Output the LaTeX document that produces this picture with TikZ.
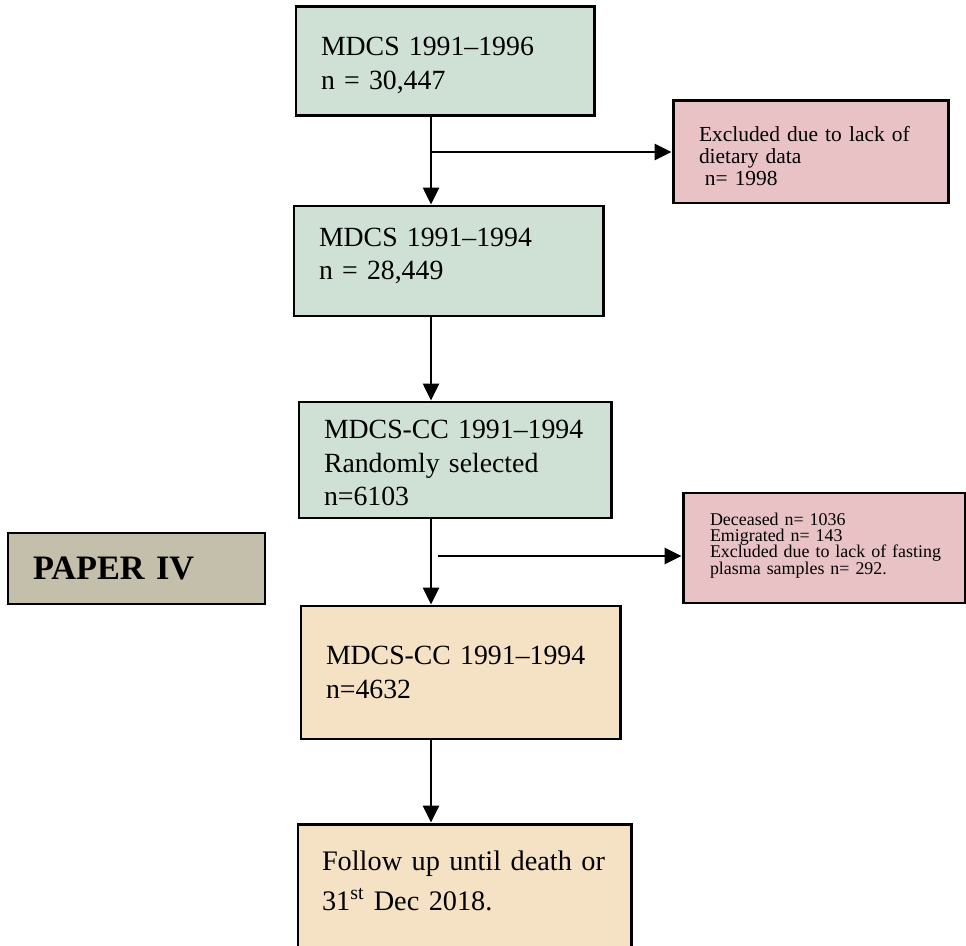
\documentclass[tikz,border=0pt]{standalone}
\usepackage{fontspec}
\setmainfont{Liberation Serif}
\usetikzlibrary{arrows.meta}

\definecolor{keptgreen}{HTML}{CFE0D5}
\definecolor{droppink}{HTML}{E9C2C6}
\definecolor{paperkhaki}{HTML}{C4BFAB}
\definecolor{finalbeige}{HTML}{F5E1C3}

% extra space under the text of a box (negative pushes the text down)
\newcommand{\padbelow}[1]{\par\vspace*{#1}\hrule height 0pt}

\begin{document}
\begin{tikzpicture}[line width=1.7pt,
    box/.style={draw=black, rectangle, align=left, inner xsep=0.5cm, inner ysep=0pt},
    mainfont/.style={font=\fontsize{15.8}{19.2}\selectfont},
    arr/.style={-{Triangle[length=0.34cm,width=0.32cm]}, line width=1.5pt}]
\useasboundingbox (0,0) rectangle (19.32,-18.92);

% main column
\node[box, mainfont, fill=keptgreen, text width=4.96cm, minimum height=2.18cm] (mdcs96) at (8.90,-1.23)
    {MDCS 1991–1996\\n = 30,447\padbelow{-0.15cm}};
\node[box, mainfont, fill=keptgreen, text width=5.18cm, minimum height=2.20cm] (mdcs94) at (8.97,-5.22)
    {MDCS 1991–1994\\n = 28,449\padbelow{0.2cm}};
\node[box, mainfont, fill=keptgreen, text width=5.24cm, minimum height=2.32cm] (ccrand) at (9.10,-9.20)
    {\mbox{MDCS-CC 1991–1994}\\Randomly selected\\n=6103\padbelow{-0.12cm}};
\node[box, mainfont, fill=finalbeige, text width=5.38cm, minimum height=2.66cm] (ccfinal) at (9.21,-13.45)
    {\mbox{MDCS-CC 1991–1994}\\n=4632};
\node[box, fill=finalbeige, inner xsep=0.48cm, text width=5.70cm, minimum height=2.80cm,
    font=\fontsize{16.1}{22.8}\selectfont] (followup) at (9.29,-17.88)
    {\mbox{Follow up until death or}\\31\textsuperscript{st} Dec 2018.\padbelow{0.52cm}};

% exclusions
\node[box, fill=droppink, inner xsep=0.52cm, text width=4.46cm, minimum height=2.04cm,
    font=\fontsize{12.2}{12.3}\selectfont] (nodiet) at (16.21,-3.04)
    {Excluded due to lack of\\dietary data\\\hspace*{0.27em}n= 1998\padbelow{-0.16cm}};
\node[box, fill=droppink, inner xsep=0.54cm, text width=4.56cm, minimum height=2.20cm,
    font={\fontsize{10.2}{9.2}\selectfont\lineskiplimit=-10pt}] (lost) at (16.48,-10.96)
    {Deceased n= 1036\\Emigrated n= 143\\\mbox{Excluded due to lack of fasting}\\plasma samples n= 292.\padbelow{0.1cm}};

% label
\node[box, fill=paperkhaki, text width=4.14cm, minimum height=1.42cm,
    font=\fontsize{19.5}{22}\selectfont\bfseries] (paper) at (2.73,-11.37) {PAPER IV};

% connectors
\coordinate (spine) at (8.62,0);
\coordinate (cut) at (8.76,-11.12);
\draw[arr] (mdcs96.south -| spine) -- (mdcs94.north -| spine);
\draw[arr] (nodiet.west -| spine) -- (nodiet.west);
\draw[arr] (mdcs94.south -| spine) -- (ccrand.north -| spine);
\draw[arr] (ccrand.south -| spine) -- (ccfinal.north -| spine);
\draw[arr] (cut) -- (cut -| lost.west);
\draw[arr] (ccfinal.south -| spine) -- (followup.north -| spine);
\end{tikzpicture}
\end{document}
